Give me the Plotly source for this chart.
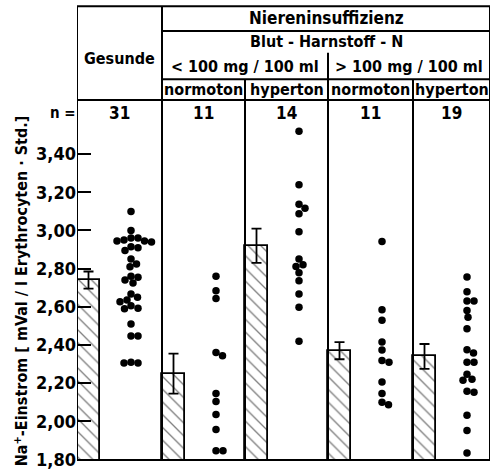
import plotly.graph_objects as go

# ---------------- data ----------------
groups = ["Gesunde", "<100 normoton", "<100 hyperton", ">100 normoton", ">100 hyperton"]
n_counts = ["31", "11", "14", "11", "19"]
means = [2.74, 2.25, 2.92, 2.37, 2.34]
sems = [0.045, 0.105, 0.09, 0.045, 0.065]

gesunde = [3.10, 3.00, 2.96, 2.96, 2.95, 2.945, 2.945, 2.94, 2.915, 2.91, 2.895,
           2.85, 2.825, 2.81, 2.76, 2.755, 2.74, 2.725, 2.667, 2.65, 2.636, 2.627,
           2.605, 2.593, 2.59, 2.51, 2.447, 2.447, 2.31, 2.306, 2.306]
lt100_normo = [2.76, 2.684, 2.644, 2.361, 2.344, 2.146, 2.103, 2.035, 1.957, 1.845, 1.845]
lt100_hyper = [3.52, 3.24, 3.138, 3.117, 3.088, 2.993, 2.85, 2.82, 2.811, 2.778,
               2.736, 2.667, 2.598, 2.42]
gt100_normo = [2.942, 2.585, 2.53, 2.416, 2.373, 2.318, 2.309, 2.206, 2.146, 2.10, 2.086]
gt100_hyper = [2.756, 2.679, 2.631, 2.631, 2.581, 2.545, 2.485, 2.375, 2.358, 2.309,
               2.309, 2.246, 2.22, 2.215, 2.158, 2.152, 2.031, 1.952, 1.834]
points = [gesunde, lt100_normo, lt100_hyper, gt100_normo, gt100_hyper]

tick_vals = [1.80, 2.00, 2.20, 2.40, 2.60, 2.80, 3.00, 3.20, 3.40]

# ---------------- layout geometry ----------------
W, H = 493, 473
L, R, T, B = 77, 3, 100, 8
PW = W - L - R          # 413
PH = H - T - B          # 365
YMIN, YMAX = 1.797, 3.684
PPU = PH / (YMAX - YMIN)
edges = [0, 85, 168, 251, 336, 413]
BAR_W = 23
DOT_OFF = 54
FONT = "DejaVu Sans Condensed, Liberation Sans Narrow, DejaVu Sans, sans-serif"


def py(pix):
    return (H - B - pix) / PH


def pxp(pix):
    return (pix - L) / PW


def swarm(vals, center, d):
    placed = []
    xs = [0.0] * len(vals)
    order = sorted(range(len(vals)), key=lambda i: -vals[i])
    for i in order:
        yp = vals[i] * PPU
        best = None
        k = 0
        while best is None:
            cands = [0.0] if k == 0 else [k * 0.5, -k * 0.5]
            for s in cands:
                if all((s - a) ** 2 + (yp - b) ** 2 >= d * d for a, b in placed):
                    best = s
                    break
            k += 1
        placed.append((best, yp))
        xs[i] = center + best
    return xs


fig = go.Figure()

bar_x = [edges[i] + BAR_W / 2 for i in range(5)]
fig.add_trace(go.Bar(
    x=bar_x, y=means, width=BAR_W,
    marker=dict(color="white", line=dict(color="black", width=1.8),
                pattern=dict(shape="\\", fgcolor="black", bgcolor="white",
                             size=9, solidity=0.15)),
    error_y=dict(type="data", array=sems, color="black", thickness=1.8, width=5),
    showlegend=False,
))

for i, vals in enumerate(points):
    xs = swarm(vals, edges[i] + DOT_OFF, 7.0)
    fig.add_trace(go.Scatter(
        x=xs, y=vals, mode="markers",
        marker=dict(color="black", size=7.5, line=dict(width=0)),
        showlegend=False, cliponaxis=False,
    ))

shapes = []


def hline(x0, x1, ypix):
    shapes.append(dict(type="line", xref="x", yref="paper", x0=x0, x1=x1,
                       y0=py(ypix), y1=py(ypix), line=dict(color="black", width=2)))


def vline(x, y0pix, y1pix):
    shapes.append(dict(type="line", xref="x", yref="paper", x0=x, x1=x,
                       y0=py(y0pix), y1=py(y1pix), line=dict(color="black", width=2)))


hline(0, 413, 5)
hline(85, 413, 30)
hline(85, 413, 79)
hline(0, 413, 100)
hline(0, 413, 465)
vline(0, 5, 465)
vline(85, 5, 465)
vline(413, 5, 465)
vline(251, 52, 465)
vline(168, 79, 465)
vline(336, 79, 465)

ann = []


def txt(x, ypix, s, size=16, xref="x"):
    ann.append(dict(x=x, y=py(ypix), xref=xref, yref="paper", text="<b>" + s + "</b>",
                    showarrow=False, xanchor="center", yanchor="middle",
                    font=dict(family=FONT, size=size, color="black")))


txt(249, 17, "Niereninsuffizienz", size=17)
txt(249, 41, "Blut - Harnstoff - N", size=16)
txt(168, 66, "&lt; 100 mg / 100 ml", size=16)
txt(332, 66, "&gt; 100 mg / 100 ml", size=16)
sub_labels = ["normoton", "hyperton", "normoton", "hyperton"]
for j, s in enumerate(sub_labels):
    txt((edges[j + 1] + edges[j + 2]) / 2, 89, s, size=16)
txt(42.5, 58, groups[0], size=16)
for i, s in enumerate(n_counts):
    txt((edges[i] + edges[i + 1]) / 2, 113, s, size=17)
txt(pxp(63), 113, "n =", size=15, xref="paper")

ann.append(dict(x=pxp(21), y=py(294), xref="paper", yref="paper",
                text="<b>Na<sup>+</sup>-Einstrom [ mVal / l Erythrocyten · Std.]</b>",
                showarrow=False, textangle=-90, xanchor="center", yanchor="middle",
                font=dict(family=FONT, size=16, color="black")))

fig.update_layout(
    width=W, height=H,
    margin=dict(l=L, r=R, t=T, b=B, pad=0),
    paper_bgcolor="white", plot_bgcolor="white",
    separators=",.",
    shapes=shapes, annotations=ann,
    bargap=0,
    xaxis=dict(range=[0, PW], showticklabels=False, showgrid=False, zeroline=False,
               showline=False, ticks="", fixedrange=True),
    yaxis=dict(range=[YMIN, YMAX], tickvals=tick_vals, tickformat=".2f",
               ticks="inside", ticklen=14, tickwidth=2, tickcolor="black",
               showgrid=False, zeroline=False, showline=False,
               ticklabeloverflow="allow",
               tickfont=dict(family=FONT, size=18, color="black", weight="bold")),
)

fig.write_html("out.html")
